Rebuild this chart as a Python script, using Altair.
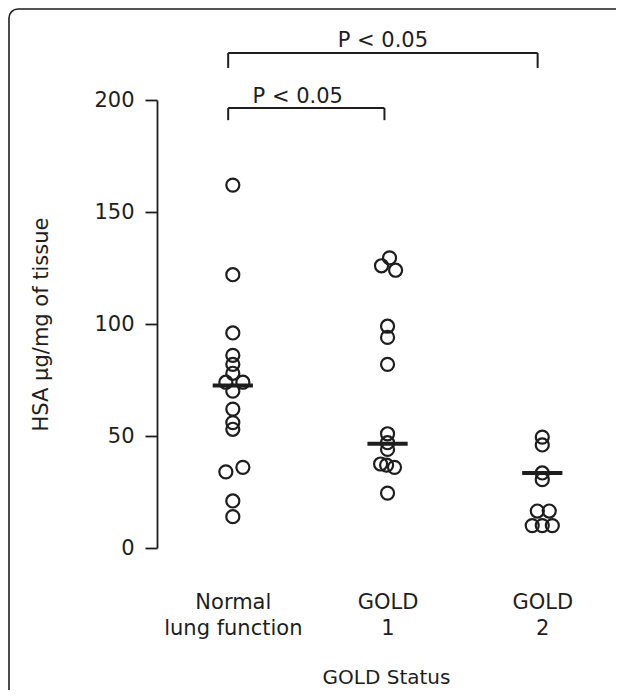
import altair as alt
import pandas as pd

# ---- data ----
group_pos = [1, 2, 3]
group_labels = [["Normal", "lung function"], ["GOLD", "1"], ["GOLD", "2"]]

g1_values = [162, 122, 96, 86, 82, 78, 74, 74, 70, 62, 56, 53, 36, 34, 21, 14]
g1_jitter = [0, 0, 0, 0, 0, 0, -0.045, 0.065, 0, 0, 0, 0, 0.065, -0.045, 0, 0]
g2_values = [129.5, 126, 124, 99, 94, 82, 51, 47, 44, 37.5, 37, 36, 24.5]
g2_jitter = [0.013, -0.039, 0.052, 0, 0, 0, 0, 0, 0, -0.045, -0.006, 0.045, 0]
g3_values = [49.5, 46, 33.5, 30.5, 16.5, 16.5, 10, 10, 10]
g3_jitter = [0, 0, 0, 0, -0.032, 0.045, -0.065, 0, 0.065]

medians = [72.5, 46.5, 33.5]

bracket_x1 = [0.97, 0.97]
bracket_x2 = [1.98, 2.97]
bracket_top = [196.4, 221.0]
bracket_bottom = [191.0, 214.3]
bracket_text = ["P < 0.05", "P < 0.05"]
bracket_text_x = [1.42, 1.97]
bracket_text_y = [198.8, 223.6]

FONT = "DejaVu Sans"
FS = 21
INK = "#1e1e1e"

rows = []
for gp, vals, jit in [(1, g1_values, g1_jitter), (2, g2_values, g2_jitter), (3, g3_values, g3_jitter)]:
    for v, j in zip(vals, jit):
        rows.append({"x": gp + j, "value": v})
points_df = pd.DataFrame(rows)

med_df = pd.DataFrame({"g": group_pos, "m": medians})
med_df["x1"] = med_df["g"] - 0.13
med_df["x2"] = med_df["g"] + 0.13

br_df = pd.DataFrame({"x1": bracket_x1, "x2": bracket_x2, "top": bracket_top,
                      "bot": bracket_bottom, "t": bracket_text,
                      "tx": bracket_text_x, "ty": bracket_text_y})

label_expr = "[" + ",".join("[" + ",".join("'%s'" % s for s in lab) + "]" for lab in group_labels) + "][datum.value - 1]"

xscale = alt.Scale(domain=[0.51, 3.47], nice=False, zero=False)
yscale = alt.Scale(domain=[0, 200], nice=False)

xaxis = alt.Axis(values=group_pos, labelExpr=label_expr, domain=False, ticks=False,
                 tickSize=0, grid=False, labelPadding=43, labelLineHeight=26,
                 labelFontSize=FS, labelFont=FONT, labelColor=INK,
                 title="GOLD Status", titleFont=FONT, titleFontSize=20,
                 titleFontWeight="normal", titleColor=INK, titlePadding=29)
yaxis = alt.Axis(values=[0, 50, 100, 150, 200], grid=False, tickSize=12,
                 tickWidth=1.8, tickColor=INK, domainColor=INK, domainWidth=1.8,
                 labelPadding=11, labelFontSize=FS, labelFont=FONT, labelColor=INK,
                 title="HSA µg/mg of tissue", titleFont=FONT, titleFontSize=FS,
                 titleFontWeight="normal", titleColor=INK, titlePadding=42)

frame = alt.Chart(alt.Data(values=[{}])).mark_rect(
    fill="transparent", stroke=INK, strokeWidth=1.6, cornerRadius=9
).encode(x=alt.value(-148), x2=alt.value(800), y=alt.value(-91), y2=alt.value(900))

pts = alt.Chart(points_df).mark_point(
    shape="circle", filled=False, size=170, strokeWidth=2.2, color=INK, opacity=1
).encode(
    x=alt.X("x:Q", scale=xscale, axis=xaxis),
    y=alt.Y("value:Q", scale=yscale, axis=yaxis),
)

meds = alt.Chart(med_df).mark_rule(color=INK, strokeWidth=4).encode(
    x=alt.X("x1:Q", scale=xscale), x2="x2:Q", y=alt.Y("m:Q", scale=yscale))

br_h = alt.Chart(br_df).mark_rule(color=INK, strokeWidth=2).encode(
    x=alt.X("x1:Q", scale=xscale), x2="x2:Q", y=alt.Y("top:Q", scale=yscale))
br_l = alt.Chart(br_df).mark_rule(color=INK, strokeWidth=2).encode(
    x=alt.X("x1:Q", scale=xscale), y=alt.Y("top:Q", scale=yscale), y2="bot:Q")
br_r = alt.Chart(br_df).mark_rule(color=INK, strokeWidth=2).encode(
    x=alt.X("x2:Q", scale=xscale), y=alt.Y("top:Q", scale=yscale), y2="bot:Q")
br_t = alt.Chart(br_df).mark_text(
    font=FONT, fontSize=FS, color=INK, align="center", baseline="alphabetic"
).encode(x=alt.X("tx:Q", scale=xscale), y=alt.Y("ty:Q", scale=yscale), text="t:N")

chart = alt.layer(frame, pts, meds, br_h, br_l, br_r, br_t).properties(
    width=458, height=448,
    background="white",
    autosize=alt.AutoSizeParams(type="none"),
    padding={"left": 149, "top": 92, "right": 1, "bottom": 142},
).configure_view(stroke=None)

chart.save("out.html", embed_options={"renderer": "svg", "actions": False})
